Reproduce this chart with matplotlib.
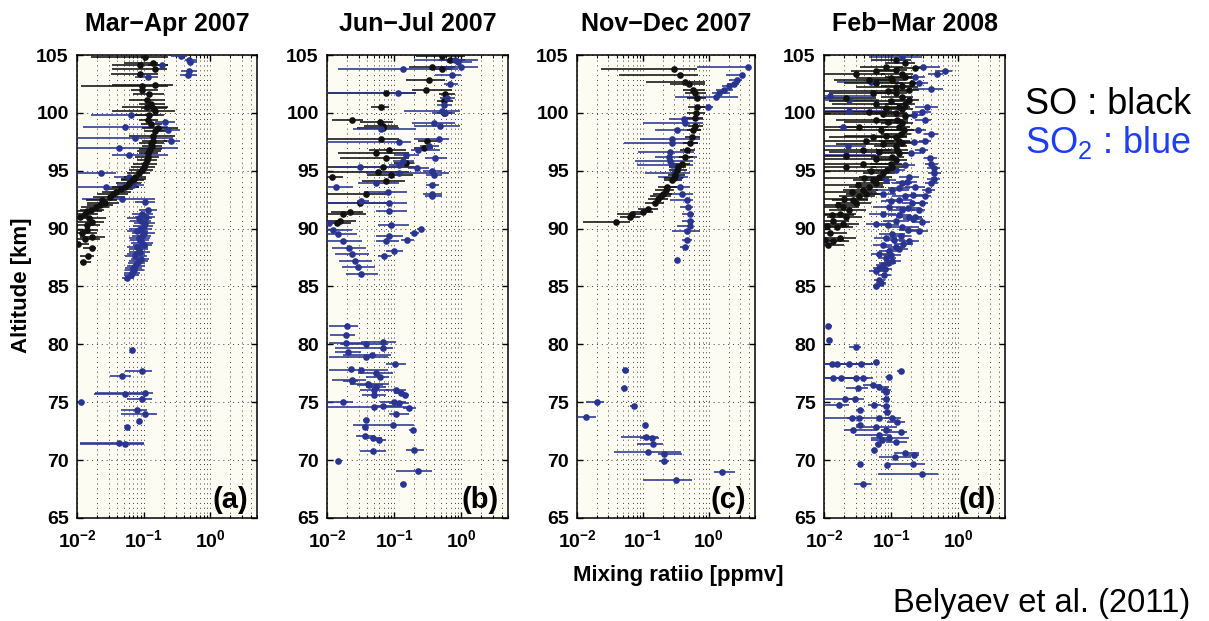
import matplotlib
matplotlib.use('Agg')
import matplotlib.pyplot as plt
from matplotlib.ticker import LogLocator, NullFormatter
import numpy as np

# ---------------- data (altitude km, mixing ratio ppmv, error-bar low/high) ----------------
# Panel (a) Mar-Apr 2007
a_so_alt = [104.8,104.3,104.1,103.8,103.4,102.4,102.3,102.0,101.1,100.5,100.2,99.4,98.7,98.0,97.1,96.5,95.9,95.3,94.8,94.2,93.6,93.2,92.7,92.5,91.9,91.3,91.0,90.6,89.9,89.3,88.7,88.3,87.6,87.1,
            99.0,98.4,97.6,96.9,96.2,95.6,94.5,93.9,93.4,92.0,91.6,90.3,89.6,99.8,100.8,
            97.4,96.7,95.1,94.3,93.0,92.2,91.5,90.9,89.1,100.4,101.6]
a_so_mr = [0.106,0.14,0.089,0.148,0.089,0.148,0.094,0.094,0.112,0.112,0.148,0.118,0.166,0.14,0.132,0.118,0.112,0.1,0.084,0.067,0.053,0.038,0.031,0.024,0.019,0.013,0.011,0.017,0.0139,0.017,0.0105,0.017,0.0147,0.0124,
           0.13,0.15,0.14,0.125,0.115,0.105,0.075,0.06,0.045,0.022,0.016,0.014,0.012,0.12,0.13,
           0.13,0.12,0.095,0.072,0.035,0.026,0.014,0.015,0.013,0.14,0.12]
a_so_lo = [0.0164,0.051,0.034,0.034,0.032,0.034,0.0113,0.064,0.06,0.048,0.034,0.084,0.094,0.06,0.094,0.084,0.08,0.064,0.057,0.045,0.034,0.024,0.0176,0.0135,0.0113,0.01,0.01,0.0105,0.01,0.011,0.01,0.0124,0.011,0.011,
           0.09,0.1,0.095,0.085,0.075,0.07,0.05,0.038,0.028,0.014,0.011,0.01,0.01,0.075,0.085,
           0.085,0.08,0.06,0.045,0.02,0.014,0.01,0.01,0.01,0.09,0.07]
a_so_hi = [0.233,0.166,0.233,0.22,0.166,0.275,0.233,0.166,0.208,0.233,0.29,0.166,0.33,0.29,0.186,0.166,0.157,0.148,0.125,0.1,0.084,0.064,0.053,0.04,0.03,0.021,0.017,0.025,0.021,0.026,0.015,0.019,0.018,0.016,
           0.19,0.23,0.22,0.19,0.17,0.16,0.11,0.09,0.07,0.035,0.025,0.022,0.02,0.2,0.21,
           0.2,0.18,0.14,0.11,0.058,0.042,0.024,0.027,0.022,0.22,0.2]

a_so2_alt = [104.9,104.6,104.4,104.1,103.6,103.3,103.1,
             99.8,98.8,97.8,97.0,96.4,94.8,93.6,92.6,98.5,97.6,99.2,
             91.3,90.9,90.5,90.0,89.6,89.2,88.8,88.4,88.0,87.6,87.2,86.8,86.4,86.0,85.7,
             92.3,91.6,94.5,93.8,
             91.0,90.7,90.2,89.8,89.4,89.0,88.6,88.2,87.8,87.4,87.0,86.6,86.2,
             79.5,77.7,77.3,75.8,75.7,75.3,75.0,74.3,74.0,73.4,72.9,71.5,71.4]
a_so2_mr = [0.366,0.47,0.5,0.186,0.47,0.46,0.118,
            0.064,0.053,0.075,0.043,0.06,0.023,0.027,0.048,0.233,0.26,0.208,
            0.094,0.084,0.105,0.089,0.1,0.084,0.094,0.08,0.089,0.075,0.084,0.075,0.071,0.064,0.057,
            0.105,0.118,0.06,0.07,
            0.11,0.09,0.1,0.08,0.095,0.088,0.1,0.085,0.078,0.09,0.08,0.07,0.066,
            0.067,0.094,0.048,0.106,0.053,0.094,0.0115,0.08,0.104,0.084,0.057,0.042,0.053]
a_so2_lo = [0.26,0.42,0.45,0.118,0.366,0.35,0.075,
            0.0164,0.0124,0.01,0.0105,0.034,0.01,0.01,0.0117,0.166,0.2,0.148,
            0.067,0.057,0.071,0.06,0.067,0.06,0.064,0.057,0.06,0.053,0.06,0.057,0.053,0.05,0.048,
            0.075,0.085,0.036,0.04,
            0.075,0.062,0.07,0.057,0.066,0.062,0.07,0.06,0.056,0.065,0.058,0.052,0.05,
            0.064,0.053,0.031,0.0184,0.018,0.057,0.0105,0.045,0.045,0.08,0.054,0.011,0.011]
a_so2_hi = [0.45,0.64,0.64,0.233,0.64,0.64,0.166,
            0.166,0.233,0.275,0.33,0.233,0.038,0.084,0.148,0.345,0.345,0.29,
            0.14,0.132,0.148,0.132,0.148,0.125,0.14,0.118,0.125,0.112,0.118,0.106,0.1,0.084,0.071,
            0.148,0.157,0.084,0.1,
            0.15,0.13,0.14,0.115,0.13,0.12,0.135,0.115,0.105,0.12,0.105,0.095,0.088,
            0.071,0.132,0.064,0.14,0.10,0.132,0.0127,0.112,0.16,0.088,0.06,0.1,0.1]

# Panel (b) Jun-Jul 2007
b_so_alt = [104.9,104.6,104.0,103.8,102.8,102.0,101.7,101.6,101.0,100.5,100.0,99.4,99.2,98.9,98.7,97.7,97.6,96.8,96.95,96.5,96.1,95.7,95.3,94.9,94.5,94.6,94.1,93.0,92.2,91.3,91.4,90.7,90.5]
b_so_mr = [0.52,0.69,0.37,0.52,0.33,0.295,0.076,0.58,0.55,0.064,0.55,0.0233,0.061,0.068,0.068,0.064,0.31,0.085,0.28,0.054,0.076,0.15,0.068,0.058,0.0118,0.09,0.076,0.0388,0.031,0.0176,0.022,0.0157,0.014]
b_so_lo = [0.21,0.46,0.168,0.37,0.15,0.188,0.01,0.46,0.43,0.046,0.43,0.0118,0.031,0.036,0.028,0.01,0.23,0.043,0.2,0.0148,0.0155,0.1,0.01,0.01,0.01,0.039,0.033,0.01,0.01,0.01,0.0115,0.01,0.01]
b_so_hi = [1.14,1.14,0.82,0.72,0.58,0.73,0.21,0.82,0.75,0.085,0.72,0.0346,0.0956,0.115,0.12,0.12,0.45,0.15,0.38,0.168,0.168,0.2,0.23,0.168,0.0176,0.19,0.147,0.076,0.085,0.0388,0.035,0.027,0.023]

b_so2_alt = [104.6,104.4,103.8,104.0,103.3,102.5,101.7,101.3,100.7,100.2,100.0,99.1,98.85,98.6,97.7,97.5,97.1,96.8,96.4,96.1,95.8,95.5,95.3,95.2,95.0,94.8,94.6,93.6,93.75,93.9,93.2,93.0,92.8,92.4,92.2,91.5,90.5,90.3,90.0,
             89.9,89.5,88.9,88.3,87.8,87.2,86.7,86.1,
             89.6,89.4,89.0,88.9,88.1,87.6,
             81.6,80.8,80.1,80.2,80.0,79.7,79.3,79.1,78.9,78.3,77.9,77.8,77.5,77.2,76.9,76.8,76.6,76.5,76.3,76.1,76.1,75.8,75.6,75.6,75.05,75.05,74.9,74.7,74.6,74.5,74.0,73.5,73.0,72.9,72.6,72.1,71.9,71.7,70.9,70.8,69.9,69.1,67.9]
b_so2_mr = [0.82,0.91,0.134,1.0,0.73,0.69,0.113,0.61,0.55,0.52,0.58,0.39,0.49,0.064,0.46,0.12,0.33,0.23,0.15,0.41,0.134,0.12,0.031,0.22,0.37,0.12,0.39,0.0137,0.37,0.054,0.08,0.37,0.37,0.0326,0.085,0.085,0.0106,0.09,0.25,
            0.0125,0.0148,0.0176,0.021,0.0233,0.026,0.029,0.0326,
            0.2,0.085,0.158,0.076,0.1,0.072,
            0.0197,0.019,0.019,0.068,0.0388,0.068,0.0204,0.0474,0.0388,0.103,0.0228,0.0326,0.054,0.061,0.024,0.0233,0.041,0.043,0.054,0.107,0.051,0.127,0.147,0.051,0.0172,0.099,0.12,0.068,0.051,0.168,0.107,0.0388,0.095,0.0366,0.19,0.0366,0.048,0.059,0.2,0.048,0.0148,0.23,0.137]
b_so2_lo = [0.2,0.61,0.0148,0.46,0.41,0.55,0.01,0.49,0.43,0.142,0.37,0.188,0.2,0.0247,0.2,0.01,0.24,0.18,0.1,0.29,0.097,0.085,0.0125,0.16,0.27,0.0388,0.3,0.01,0.3,0.029,0.036,0.27,0.29,0.028,0.01,0.054,0.01,0.058,0.22,
            0.01,0.01,0.01,0.012,0.013,0.015,0.017,0.019,
            0.17,0.054,0.127,0.053,0.075,0.058,
            0.0106,0.011,0.0106,0.0326,0.0157,0.0133,0.0133,0.0176,0.0106,0.076,0.0215,0.0106,0.029,0.0388,0.0118,0.0176,0.022,0.028,0.0388,0.076,0.031,0.1,0.12,0.033,0.01,0.061,0.085,0.05,0.01,0.134,0.085,0.0346,0.0247,0.033,0.168,0.0275,0.0346,0.045,0.15,0.031,0.0137,0.107,0.122]
b_so2_hi = [1.8,1.43,0.91,1.8,1.0,0.91,0.21,0.82,0.72,0.97,0.82,0.82,0.97,0.21,0.65,0.178,0.46,0.49,0.236,0.61,0.2,0.168,0.107,0.33,0.52,0.65,0.52,0.0244,0.46,0.12,0.158,0.52,0.52,0.043,0.158,0.158,0.0132,0.168,0.28,
            0.024,0.028,0.033,0.038,0.042,0.047,0.052,0.058,
            0.236,0.134,0.2,0.12,0.134,0.09,
            0.029,0.026,0.0346,0.107,0.081,0.095,0.0326,0.09,0.081,0.15,0.0247,0.081,0.095,0.085,0.0388,0.029,0.085,0.069,0.075,0.15,0.085,0.147,0.168,0.075,0.0247,0.15,0.165,0.12,0.168,0.21,0.165,0.043,0.2,0.041,0.21,0.051,0.065,0.076,0.28,0.076,0.0166,0.37,0.15]

# Panel (c) Nov-Dec 2007
c_so_alt = [103.8,103.3,102.7,102.5,102.0,101.7,101.3,100.5,100.0,99.6,98.9,98.5,97.9,97.4,96.8,96.2,95.6,95.1,94.6,94.2,93.6,93.0,92.6,92.2,91.7,91.4,91.3,91.0,90.6,
            94.4,93.3,92.8,95.3]
c_so_mr = [0.295,0.37,0.44,0.5,0.58,0.61,0.65,0.65,0.63,0.61,0.61,0.58,0.55,0.52,0.46,0.44,0.39,0.33,0.31,0.28,0.235,0.2,0.168,0.15,0.12,0.1,0.068,0.064,0.0388,
           0.3,0.22,0.19,0.34]
c_so_lo = [0.0233,0.0434,0.113,0.26,0.41,0.44,0.46,0.49,0.46,0.46,0.49,0.46,0.44,0.41,0.37,0.35,0.31,0.25,0.236,0.21,0.168,0.142,0.12,0.107,0.085,0.071,0.041,0.045,0.0125,
           0.21,0.15,0.13,0.25]
c_so_hi = [0.65,0.69,0.87,0.87,0.87,0.91,0.91,0.87,0.87,0.82,0.82,0.77,0.73,0.69,0.61,0.58,0.52,0.46,0.44,0.39,0.33,0.28,0.236,0.21,0.168,0.142,0.107,0.091,0.064,
           0.4,0.3,0.27,0.45]

c_so2_alt = [104.0,103.3,102.8,102.5,102.3,102.0,101.7,101.4,100.5,99.5,99.1,98.5,97.7,97.4,96.6,96.2,95.8,95.5,94.8,94.5,93.6,93.0,92.5,91.9,91.3,90.7,90.2,89.8,89.0,88.4,87.3,
             77.8,76.2,75.0,74.7,73.7,73.0,72.0,71.9,71.4,70.7,70.5,69.9,69.0,68.3]
c_so2_mr = [3.9,3.2,2.7,2.4,2.0,1.7,1.43,1.28,0.97,0.415,0.44,0.33,0.28,0.28,0.26,0.25,0.26,0.28,0.295,0.33,0.37,0.39,0.46,0.49,0.52,0.52,0.51,0.46,0.46,0.44,0.33,
            0.054,0.052,0.0203,0.072,0.0137,0.107,0.11,0.137,0.14,0.12,0.21,0.21,1.6,0.32]
c_so2_lo = [0.65,1.8,2.0,1.9,1.6,1.3,1.1,0.31,0.65,0.25,0.1,0.15,0.09,0.051,0.085,0.15,0.076,0.08,0.107,0.168,0.21,0.235,0.26,0.37,0.39,0.39,0.33,0.28,0.39,0.37,0.31,
            0.048,0.047,0.0137,0.064,0.01,0.1,0.046,0.09,0.081,0.037,0.168,0.175,1.2,0.1]
c_so2_hi = [4.2,3.4,3.2,2.9,2.6,2.3,2.1,2.8,1.14,0.8,0.8,0.77,0.73,0.69,0.6,0.65,0.58,0.58,0.52,0.49,0.52,0.58,0.58,0.58,0.6,0.6,0.58,0.73,0.55,0.5,0.36,
            0.061,0.057,0.026,0.08,0.0197,0.115,0.168,0.178,0.2,0.38,0.39,0.25,2.5,0.55]

# Panel (d) Feb-Mar 2008
d_so_alt = [88.6,88.9,89.2,89.6,90.1,90.4,90.7,91.0,91.3,91.6,91.9,92.2,92.5,92.8,
            93.0,93.3,93.6,93.9,94.2,94.5,94.8,95.1,95.3,95.6,95.9,96.2,96.5,96.8,
            97.1,97.4,97.6,97.9,98.2,98.5,98.8,99.1,99.4,99.7,100.0,100.3,100.5,100.8,
            101.1,101.4,101.7,102.0,102.3,102.6,102.8,103.1,103.4,103.6,103.7,103.9,104.0,104.3,
            95.6,95.3,96.3,96.8,97.6,97.9,98.8,99.4,100.1,100.8,101.3,101.7,102.6,102.8,103.4,
            101.9,101.0,100.4,99.9,99.2,98.5,98.0,97.3,96.6,96.0,95.0,94.4,93.8,93.2,92.6,92.0,91.2,90.2,89.0,102.2,103.0,104.6]
d_so_mr = [0.0116,0.0137,0.0172,0.0122,0.0154,0.0192,0.0137,0.0215,0.0172,0.024,0.0192,0.0302,0.027,0.0338,
           0.0424,0.0378,0.0474,0.0595,0.053,0.0665,0.075,0.088,0.105,0.099,0.117,0.105,0.131,0.124,
           0.117,0.147,0.131,0.117,0.139,0.155,0.131,0.147,0.124,0.164,0.117,0.147,0.131,0.164,
           0.184,0.147,0.117,0.184,0.147,0.206,0.105,0.164,0.147,0.0595,0.117,0.23,0.083,0.164,
           0.0378,0.0215,0.0215,0.0378,0.0424,0.053,0.0338,0.0595,0.0474,0.0595,0.0215,0.053,0.0595,0.0474,0.0302,
           0.09,0.1,0.085,0.075,0.09,0.07,0.085,0.075,0.065,0.06,0.05,0.04,0.032,0.026,0.02,0.016,0.013,0.011,0.0105,0.12,0.1,0.12]
d_so_lo = [0.01,0.01,0.01,0.01,0.01,0.01,0.01,0.011,0.01,0.012,0.01,0.015,0.013,0.017,
           0.021,0.019,0.024,0.03,0.027,0.033,0.038,0.044,0.05,0.048,0.06,0.05,0.065,0.06,
           0.055,0.075,0.065,0.055,0.07,0.08,0.065,0.07,0.06,0.085,0.055,0.075,0.065,0.08,
           0.09,0.07,0.055,0.09,0.07,0.1,0.05,0.08,0.07,0.025,0.055,0.12,0.035,0.08,
           0.01,0.01,0.01,0.01,0.01,0.012,0.01,0.015,0.01,0.013,0.01,0.012,0.02,0.014,0.01,
           0.01,0.012,0.01,0.01,0.02,0.01,0.02,0.015,0.012,0.01,0.01,0.01,0.01,0.01,0.01,0.01,0.01,0.01,0.01,0.03,0.03,0.05]
d_so_hi = [0.02,0.024,0.03,0.022,0.027,0.033,0.024,0.037,0.03,0.042,0.033,0.05,0.046,0.057,
           0.07,0.063,0.078,0.095,0.085,0.105,0.115,0.13,0.155,0.145,0.17,0.155,0.19,0.18,
           0.17,0.21,0.19,0.17,0.2,0.22,0.19,0.21,0.18,0.23,0.17,0.21,0.19,0.23,
           0.26,0.21,0.17,0.26,0.21,0.29,0.16,0.23,0.21,0.12,0.17,0.31,0.15,0.23,
           0.09,0.06,0.065,0.1,0.11,0.14,0.09,0.15,0.12,0.15,0.06,0.13,0.15,0.12,0.08,
           0.2,0.2,0.18,0.17,0.18,0.15,0.17,0.16,0.14,0.13,0.11,0.09,0.075,0.06,0.045,0.035,0.028,0.024,0.02,0.25,0.22,0.2]

d_so2_alt = [104.8,104.0,103.6,103.4,103.1,102.7,102.6,102.1,101.5,101.1,100.5,100.2,100.1,99.4,98.8,98.2,97.6,97.1,96.8,96.4,96.1,95.6,95.2,94.8,94.3,93.9,93.3,92.8,92.2,91.6,91.0,90.6,
             95.1,94.5,94.2,93.9,93.6,93.3,93.0,92.8,92.5,92.2,91.9,91.6,91.3,91.0,90.7,90.4,90.1,89.8,89.5,89.2,88.9,88.6,88.4,88.1,87.8,87.5,87.2,86.9,86.6,86.3,86.0,85.6,85.0,
             94.0,93.5,92.9,92.4,91.8,91.2,90.8,90.3,89.9,89.4,89.0,88.7,88.2,87.7,87.0,86.5,85.3,95.5,96.5,97.5,98.5,99.8]
d_so2_mr = [0.147,0.3,0.64,0.48,0.23,0.05,0.26,0.4,0.0122,0.024,0.34,0.024,0.29,0.32,0.0192,0.4,0.32,0.0228,0.29,0.0215,0.38,0.4,0.43,0.44,0.43,0.4,0.36,0.32,0.29,0.26,0.23,0.29,
            0.117,0.184,0.083,0.147,0.23,0.105,0.075,0.164,0.131,0.206,0.093,0.147,0.075,0.184,0.117,0.0595,0.147,0.26,0.105,0.083,0.184,0.075,0.117,0.093,0.0665,0.083,0.105,0.075,0.0665,0.0595,0.079,0.0665,0.0595,
            0.17,0.13,0.21,0.1,0.18,0.13,0.21,0.09,0.18,0.14,0.11,0.15,0.13,0.1,0.09,0.08,0.07,0.16,0.2,0.22,0.25,0.22]
d_so2_lo = [0.047,0.21,0.45,0.36,0.164,0.0154,0.184,0.21,0.01,0.01,0.23,0.01,0.206,0.23,0.017,0.305,0.26,0.01,0.23,0.01,0.305,0.32,0.34,0.36,0.34,0.32,0.29,0.26,0.23,0.206,0.184,0.206,
            0.083,0.131,0.0595,0.105,0.164,0.0595,0.0474,0.105,0.083,0.147,0.053,0.093,0.0474,0.117,0.075,0.0424,0.093,0.184,0.0665,0.056,0.131,0.053,0.083,0.0665,0.05,0.063,0.079,0.0595,0.053,0.0474,0.063,0.056,0.053,
            0.12,0.09,0.15,0.07,0.12,0.09,0.15,0.06,0.13,0.1,0.08,0.11,0.09,0.075,0.065,0.06,0.06,0.11,0.14,0.16,0.18,0.15]
d_so2_hi = [0.29,0.54,0.8,0.6,0.32,0.131,0.36,0.6,0.0595,0.0665,0.5,0.105,0.4,0.4,0.075,0.5,0.4,0.0424,0.36,0.0595,0.48,0.5,0.54,0.55,0.54,0.5,0.45,0.4,0.36,0.32,0.29,0.38,
            0.164,0.26,0.117,0.206,0.32,0.184,0.117,0.26,0.206,0.29,0.164,0.23,0.117,0.29,0.184,0.093,0.26,0.36,0.164,0.124,0.26,0.105,0.164,0.131,0.093,0.117,0.139,0.099,0.088,0.079,0.099,0.081,0.068,
            0.24,0.19,0.3,0.15,0.26,0.2,0.3,0.13,0.26,0.2,0.16,0.21,0.18,0.14,0.12,0.105,0.085,0.23,0.28,0.3,0.33,0.3]

d_so2_low_alt = [81.6,80.4,79.8,78.5,78.3,78.3,78.3,78.3,77.7,77.1,77.1,77.1,77.1,77.15,76.5,76.3,76.2,76.1,75.9,75.3,75.3,75.3,74.8,74.75,74.7,74.3,74.2,73.6,73.6,73.6,73.6,73.3,73.0,72.9,72.6,72.6,72.4,72.2,71.9,71.7,71.6,71.4,70.9,70.6,70.4,70.3,69.7,69.7,69.6,68.8,67.9]
d_so2_low_mr = [0.0116,0.012,0.03,0.0595,0.013,0.0154,0.024,0.0357,0.139,0.0137,0.018,0.03,0.038,0.093,0.053,0.0665,0.032,0.081,0.083,0.0204,0.0286,0.083,0.0168,0.056,0.083,0.0345,0.088,0.0264,0.033,0.0665,0.105,0.124,0.034,0.0595,0.083,0.027,0.139,0.0665,0.093,0.073,0.12,0.063,0.055,0.16,0.217,0.114,0.035,0.21,0.088,0.29,0.038]
d_so2_low_lo = [0.0106,0.011,0.0236,0.053,0.01,0.01,0.017,0.027,0.124,0.01,0.01,0.021,0.027,0.083,0.038,0.05,0.021,0.07,0.072,0.01,0.021,0.072,0.01,0.045,0.072,0.03,0.077,0.01,0.022,0.045,0.082,0.088,0.03,0.03,0.07,0.02,0.093,0.0286,0.05,0.05,0.083,0.057,0.053,0.11,0.164,0.0665,0.033,0.088,0.083,0.063,0.028]
d_so2_low_hi = [0.013,0.0127,0.036,0.0665,0.053,0.034,0.036,0.053,0.155,0.045,0.03,0.045,0.053,0.105,0.07,0.093,0.045,0.099,0.098,0.027,0.04,0.095,0.024,0.07,0.095,0.04,0.1,0.04,0.045,0.099,0.14,0.164,0.038,0.124,0.105,0.0595,0.174,0.099,0.184,0.105,0.174,0.07,0.058,0.26,0.26,0.195,0.038,0.32,0.093,0.5,0.05]

titles = ['Mar\u2212Apr 2007', 'Jun\u2212Jul 2007', 'Nov\u2212Dec 2007', 'Feb\u2212Mar 2008']
letters = ['(a)', '(b)', '(c)', '(d)']
yticks = [65, 70, 75, 80, 85, 90, 95, 100, 105]
xticks = [0.01, 0.1, 1]
xticklabels = [r'$\mathbf{10^{-2}}$', r'$\mathbf{10^{-1}}$', r'$\mathbf{10^{0}}$']

# ---------------- style ----------------
plt.rcParams['font.family'] = ['Liberation Sans', 'DejaVu Sans']
plt.rcParams['mathtext.fontset'] = 'custom'
plt.rcParams['mathtext.rm'] = 'Liberation Sans'
plt.rcParams['mathtext.bf'] = 'Liberation Sans:bold'
plt.rcParams['mathtext.it'] = 'Liberation Sans:italic'
plt.rcParams['mathtext.sf'] = 'Liberation Sans'

BLACK = '#111111'
BLUE = '#2a3590'

fig = plt.figure(figsize=(12.09, 6.21), dpi=100)
W, H = 1209.0, 621.0
lefts = [77, 327, 577, 824]
widths = [180, 181, 178, 181]
top_px, bot_px = 55, 518

series = [
    [(a_so2_alt, a_so2_mr, a_so2_lo, a_so2_hi, BLUE), (a_so_alt, a_so_mr, a_so_lo, a_so_hi, BLACK)],
    [(b_so_alt, b_so_mr, b_so_lo, b_so_hi, BLACK), (b_so2_alt, b_so2_mr, b_so2_lo, b_so2_hi, BLUE)],
    [(c_so2_alt, c_so2_mr, c_so2_lo, c_so2_hi, BLUE), (c_so_alt, c_so_mr, c_so_lo, c_so_hi, BLACK)],
    [(d_so2_alt, d_so2_mr, d_so2_lo, d_so2_hi, BLUE),
     (d_so2_low_alt, d_so2_low_mr, d_so2_low_lo, d_so2_low_hi, BLUE),
     (d_so_alt, d_so_mr, d_so_lo, d_so_hi, BLACK)],
]

grid_style = dict(linestyle=(0, (1, 4)), color='#3a3a3a', linewidth=0.7)

for i in range(4):
    ax = fig.add_axes([lefts[i] / W, 1 - bot_px / H, widths[i] / W, (bot_px - top_px) / H])
    ax.set_facecolor('#fcfcf3')
    ax.set_xscale('log')
    for alt, mr, lo, hi, col in series[i]:
        alt = np.asarray(alt, float)
        mr = np.asarray(mr, float)
        lo = np.asarray(lo, float)
        hi = np.asarray(hi, float)
        assert len(alt) == len(mr) == len(lo) == len(hi), (i, len(alt), len(mr), len(lo), len(hi))
        xerr = [np.maximum(mr - lo, 0), np.maximum(hi - mr, 0)]
        ax.errorbar(mr, alt, xerr=xerr, fmt='o', color=col, ecolor=col, ms=4.8,
                    mew=0, elinewidth=1.15, capsize=3.0, capthick=1.15, zorder=3)
    ax.set_xlim(0.01, 5)
    ax.set_ylim(65, 105)
    ax.set_yticks(yticks)
    ax.set_xticks(xticks)
    ax.set_xticklabels(xticklabels)
    ax.xaxis.set_minor_locator(LogLocator(base=10, subs=np.arange(2, 10)))
    ax.xaxis.set_minor_formatter(NullFormatter())
    ax.grid(True, which='both', axis='x', **grid_style)
    ax.grid(True, which='major', axis='y', **grid_style)
    ax.set_axisbelow(True)
    ax.tick_params(which='both', direction='in', top=True, right=True)
    ax.tick_params(which='major', length=4, width=1)
    ax.tick_params(axis='y', which='major', labelsize=14, pad=6)
    ax.tick_params(axis='x', which='major', labelsize=14, pad=8)
    ax.tick_params(which='minor', length=2, width=0.8)
    for lbl in ax.get_yticklabels():
        lbl.set_fontweight('bold')
    for s in ax.spines.values():
        s.set_linewidth(1.1)
    ax.set_title(titles[i], fontsize=18, fontweight='bold', pad=17)
    ax.text(0.95, 0.008, letters[i], transform=ax.transAxes, ha='right', va='bottom',
            fontsize=21, fontweight='bold')

fig.text(678 / W, 1 - 576 / H, 'Mixing ratiio [ppmv]', ha='center', va='center',
         fontsize=16, fontweight='bold')
fig.text(22 / W, 1 - 285 / H, 'Altitude [km]', ha='center', va='center', rotation=90,
         fontsize=16, fontweight='bold')

fig.text(1025 / W, 1 - 114 / H, 'SO : black', fontsize=26, color='black', va='baseline')
fig.text(1025 / W, 1 - 153 / H, r'SO$_2$ : blue', fontsize=26, color='#1d3ef2', va='baseline')
fig.text(1190 / W, 1 - 612 / H, 'Belyaev et al. (2011)', fontsize=23.5, color='black',
         ha='right', va='baseline')

fig.savefig('out.png', dpi=100, facecolor='white')
